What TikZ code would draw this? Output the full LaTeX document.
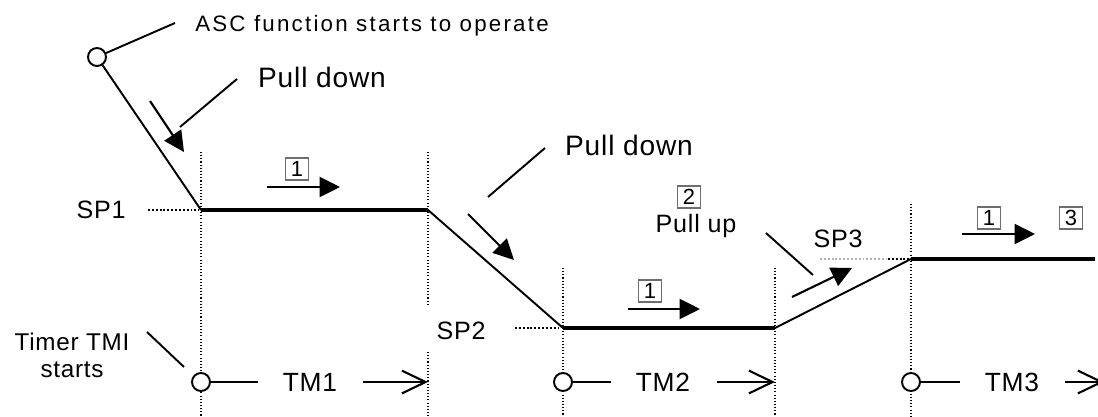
\documentclass[tikz,border=0pt]{standalone}
\usepackage{fontspec}
\setmainfont{Liberation Sans}[LetterSpace=3]
\newfontfamily\ascfont{Liberation Sans}[LetterSpace=10]
\usetikzlibrary{arrows.meta}
\definecolor{boxline}{HTML}{6E6E6E}
\definecolor{guideline}{HTML}{B4B4B4}
\tikzset{
  lbl/.style={inner sep=0pt, font=\fontsize{14.3}{16}\selectfont},
  biglbl/.style={lbl, font=\fontsize{16}{18}\selectfont},
  tmlbl/.style={lbl, font=\fontsize{15}{17}\selectfont},
  numbox/.style={draw=boxline, line width=0.6pt, minimum width=13.5pt, minimum height=12.5pt,
                 inner sep=0pt, font=\fontsize{12.5}{13}\selectfont},
  ring/.style={draw, circle, fill=white, line width=1.1pt, minimum size=0.36cm, inner sep=0pt},
  ramp/.style={line width=1.1pt},
  flat/.style={line width=2.3pt},
  leader/.style={line width=1.1pt},
  push/.style={line width=1.2pt, -{Triangle[length=11.6pt, width=11.4pt]}},
  timeline/.style={line width=1.2pt, -{Straight Barb[length=13.5pt, width=13pt]}},
  guide/.style={line width=0.6pt, dash pattern=on 0.6pt off 1.2pt},
  setline/.style={line width=1.1pt, dash pattern=on 1.1pt off 1.1pt},
}
\begin{document}
\begin{tikzpicture}[x=0.02cm, y=-0.02cm]
    \useasboundingbox (0,0) rectangle (1098,416);
    % time marks
    \draw[guide] (201,152) -- (201,416);
    \draw[guide] (428,152) -- (428,305);
    \draw[guide] (428,352) -- (428,416);
    \draw[guide] (563,268) -- (563,416);
    \draw[guide] (775,268) -- (775,416);
    \draw[guide] (911,204) -- (911,416);
    \draw[setline] (148,210) -- (199,210);
    \draw[setline] (515,328) -- (561,328);
    \draw[setline, guideline] (820,259) -- (886,259);
    \draw[setline] (888,259) -- (909,259);
    % set point profile
    \node[ring] (asc) at (97,57) {};
    \coordinate (sp1a) at (201,210);
    \coordinate (sp1b) at (428,210);
    \coordinate (sp2a) at (563,328);
    \coordinate (sp2b) at (775,328);
    \coordinate (sp3a) at (911,259);
    \coordinate (sp3b) at (1095,259);
    \draw[ramp] (asc) -- (sp1a);
    \draw[flat] (sp1a) -- (sp1b);
    \draw[ramp] (sp1b) -- (sp2a);
    \draw[flat] (sp2a) -- (sp2b);
    \draw[ramp] (sp2b) -- (sp3a);
    \draw[flat] (sp3a) -- (sp3b);
    \node[lbl] (sp1lbl) at (101,210) {SP1};
    \node[lbl] (sp2lbl) at (461,331) {SP2};
    \node[lbl] (sp3lbl) at (838,239) {SP3};
    % callouts
    \node[lbl, font=\ascfont\fontsize{12.7}{14}\selectfont, anchor=base] (asctext) at (372,31) {ASC function starts to operate};
    \coordinate (ascend) at (175,23);
    \draw[leader] (asc) -- (ascend);
    \node[biglbl, anchor=base] (pd1) at (322,87) {Pull down};
    \coordinate (pd1a) at (237,79);
    \coordinate (pd1b) at (180,127);
    \draw[leader] (pd1a) -- (pd1b);
    \coordinate (p1s) at (150,101);
    \coordinate (p1e) at (184,152);
    \draw[push] (p1s) -- (p1e);
    \node[biglbl, anchor=base] (pd2) at (629,155) {Pull down};
    \coordinate (pd2a) at (545,148);
    \coordinate (pd2b) at (488,197);
    \draw[leader] (pd2a) -- (pd2b);
    \coordinate (p2s) at (468,214);
    \coordinate (p2e) at (514,260);
    \draw[push] (p2s) -- (p2e);
    \node[numbox] (n2) at (689,197) {2};
    \node[lbl, anchor=base] (pullup) at (696,232) {Pull up};
    \coordinate (pua) at (766,233);
    \coordinate (pub) at (813,275);
    \draw[leader] (pua) -- (pub);
    \coordinate (p3s) at (792,297);
    \coordinate (p3e) at (852,268);
    \draw[push] (p3s) -- (p3e);
    % hold arrows
    \node[numbox] (n1a) at (297,169) {1};
    \coordinate (h1s) at (267,187);
    \coordinate (h1e) at (340,187);
    \draw[push] (h1s) -- (h1e);
    \node[numbox] (n1b) at (650,291) {1};
    \coordinate (h2s) at (628,309);
    \coordinate (h2e) at (700,309);
    \draw[push] (h2s) -- (h2e);
    \node[numbox] (n1c) at (989,218) {1};
    \coordinate (h3s) at (962,234);
    \coordinate (h3e) at (1035,234);
    \draw[push] (h3s) -- (h3e);
    \node[numbox] (n3) at (1071,218) {3};
    % timers
    \node[lbl, font=\fontsize{13.8}{15.4}\selectfont, align=center, anchor=north] (timer) at (72,333) {Timer TMI\\starts};
    \coordinate (tma) at (147,332);
    \coordinate (tmb) at (184,367);
    \draw[leader] (tma) -- (tmb);
    \node[ring] (c1) at (201,382) {};
    \node[ring] (c2) at (563,382) {};
    \node[ring] (c3) at (911,382) {};
    \coordinate (c1e) at (258,382);
    \coordinate (c2e) at (611,382);
    \coordinate (c3e) at (960,382);
    \draw[ramp] (c1) -- (c1e);
    \draw[ramp] (c2) -- (c2e);
    \draw[ramp] (c3) -- (c3e);
    \node[tmlbl] (tm1) at (310,382) {TM1};
    \node[tmlbl] (tm2) at (663,382) {TM2};
    \node[tmlbl] (tm3) at (1012,382) {TM3};
    \coordinate (t1s) at (363,382);
    \coordinate (t1e) at (428,382);
    \coordinate (t2s) at (717,382);
    \coordinate (t2e) at (775,382);
    \coordinate (t3s) at (1065,382);
    \coordinate (t3e) at (1104,382);
    \draw[timeline] (t1s) -- (t1e);
    \draw[timeline] (t2s) -- (t2e);
    \draw[timeline] (t3s) -- (t3e);
  \end{tikzpicture}
\end{document}
